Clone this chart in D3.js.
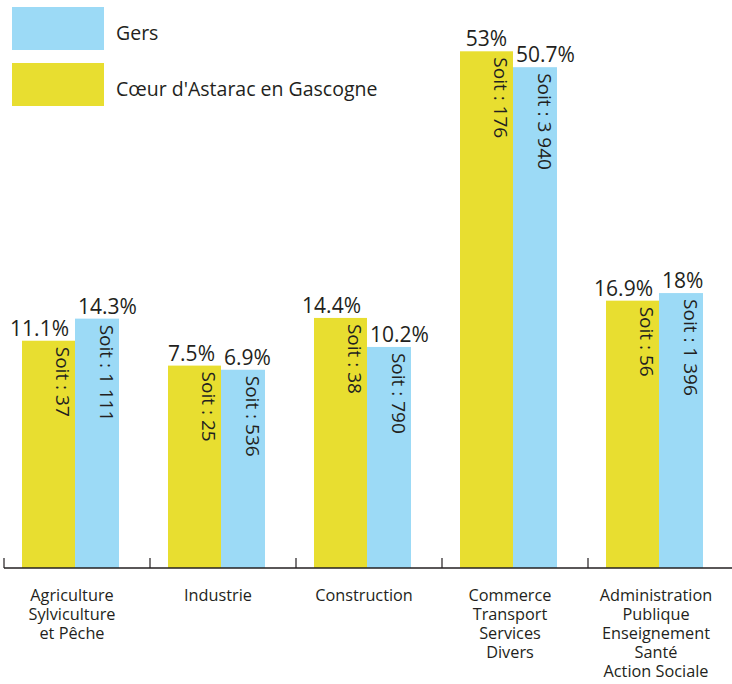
<!DOCTYPE html>
<html>
<head>
<meta charset="utf-8">
<script src="https://cdn.jsdelivr.net/npm/d3@7"></script>
<style>
  body { margin: 0; background: #fff; }
  svg { display: block; font-family: "Open Sans", sans-serif; }
</style>
</head>
<body>
<div id="wrapper"></div>
<script>
// data
const categories = ["Agriculture|Sylviculture|et Pêche", "Industrie", "Construction",
  "Commerce|Transport|Services|Divers", "Administration|Publique|Enseignement|Santé|Action Sociale"]
const astaracPct = [11.1, 7.5, 14.4, 53, 16.9]
const gersPct = [14.3, 6.9, 10.2, 50.7, 18]
const astaracCount = [37, 25, 38, 176, 56]
const gersCount = [1111, 536, 790, 3940, 1396]
const seriesNames = ["Gers", "Cœur d'Astarac en Gascogne"]

const yellow = '#e8de30'
const blue = '#9cdaf6'
const ink = '#231f20'

// 1. build rows
const rows = categories.map((c, i) => ({
  cat: c,
  astarac: astaracPct[i], gers: gersPct[i],
  astaracN: astaracCount[i], gersN: gersCount[i]
}))

// 2. dimensions
let dimensions = { width: 732, height: 684, baseline: 568 }

// 3. canvas
const wrapper = d3.select('#wrapper')
  .append('svg')
    .attr('width', dimensions.width)
    .attr('height', dimensions.height)

// scales
const xScale = d3.scaleBand()
  .domain(categories)
  .range([4, 734])

// the original drawing is not zero based, bars grow from about -21.8%
const yScale = d3.scaleLinear()
  .domain([-21.8, 53])
  .range([dimensions.baseline, 51.3])

const yellowX = d => xScale(d.cat) + 18
const blueX = d => xScale(d.cat) + 71
const yellowW = 53
const blueW = 44

const fr = d3.formatLocale({ decimal: ',', thousands: '\u00a0', grouping: [3], currency: ['', '€'] })
const countFmt = fr.format(',d')

// 4. bars
const groups = wrapper.selectAll('.grp')
  .data(rows)
  .enter().append('g')
    .attr('class', 'grp')

groups.append('rect')
  .attr('x', yellowX)
  .attr('y', d => yScale(d.astarac))
  .attr('width', yellowW)
  .attr('height', d => yScale.range()[0] - yScale(d.astarac))
  .attr('fill', yellow)

groups.append('rect')
  .attr('x', blueX)
  .attr('y', d => yScale(d.gers))
  .attr('width', blueW)
  .attr('height', d => yScale.range()[0] - yScale(d.gers))
  .attr('fill', blue)

// percent labels
groups.append('text')
  .attr('x', d => yellowX(d) + yellowW - 6)
  .attr('y', d => yScale(d.astarac) - 5)
  .attr('text-anchor', 'end')
  .attr('font-size', 21)
  .attr('fill', ink)
  .text(d => d.astarac + '%')

groups.append('text')
  .attr('x', d => blueX(d) + 3)
  .attr('y', d => yScale(d.gers) - 5)
  .attr('font-size', 21)
  .attr('fill', ink)
  .text(d => d.gers + '%')

// vertical "Soit" labels
groups.append('text')
  .attr('transform', d => `translate(${yellowX(d) + yellowW - 19},${yScale(d.astarac) + 6}) rotate(90)`)
  .attr('font-size', 19)
  .attr('fill', ink)
  .text(d => 'Soit : ' + countFmt(d.astaracN))

groups.append('text')
  .attr('transform', d => `translate(${blueX(d) + blueW - 19},${yScale(d.gers) + 6}) rotate(90)`)
  .attr('font-size', 19)
  .attr('fill', ink)
  .text(d => 'Soit : ' + countFmt(d.gersN))

// 5. axis
wrapper.append('line')
  .attr('x1', xScale.range()[0]).attr('x2', dimensions.width)
  .attr('y1', dimensions.baseline).attr('y2', dimensions.baseline)
  .attr('stroke', ink)
  .attr('stroke-width', 1.5)

wrapper.selectAll('.tick')
  .data(categories)
  .enter().append('line')
    .attr('class', 'tick')
    .attr('x1', d => xScale(d)).attr('x2', d => xScale(d))
    .attr('y1', dimensions.baseline - 10).attr('y2', dimensions.baseline)
    .attr('stroke', ink)
    .attr('stroke-width', 1.2)

const catLabels = wrapper.selectAll('.cat')
  .data(categories)
  .enter().append('text')
    .attr('class', 'cat')
    .attr('text-anchor', 'middle')
    .attr('font-size', 16.3)
    .attr('fill', ink)

catLabels.selectAll('tspan')
  .data(d => d.split('|').map(t => ({ t, cat: d })))
  .enter().append('tspan')
    .attr('x', d => xScale(d.cat) + 68)
    .attr('y', (d, i) => 601 + i * 19)
    .text(d => d.t)

// legend
const legend = wrapper.append('g')
legend.selectAll('rect')
  .data(seriesNames)
  .enter().append('rect')
    .attr('x', 12)
    .attr('y', (d, i) => 7 + i * 56)
    .attr('width', 92)
    .attr('height', 43)
    .attr('fill', (d, i) => i === 0 ? blue : yellow)

legend.selectAll('text')
  .data(seriesNames)
  .enter().append('text')
    .attr('x', 116)
    .attr('y', (d, i) => 40 + i * 56)
    .attr('font-size', 19.5)
    .attr('fill', ink)
    .text(d => d)
</script>
</body>
</html>
